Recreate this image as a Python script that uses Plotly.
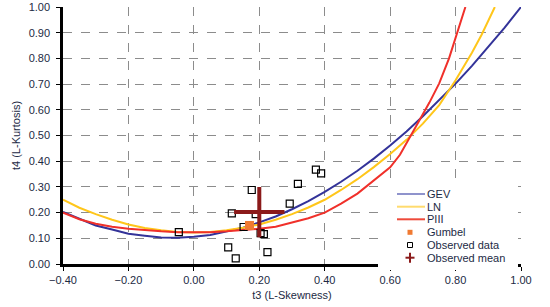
import plotly.graph_objects as go

# ---- data ----
gev_t3 = [-0.40, -0.35, -0.30, -0.25, -0.20, -0.15, -0.10, -0.05, 0.00, 0.05, 0.10, 0.15,
          0.20, 0.25, 0.30, 0.35, 0.40, 0.45, 0.50, 0.55, 0.60, 0.65, 0.70, 0.75, 0.80,
          0.85, 0.90, 0.95, 1.00]
gev_t4 = [0.203, 0.175, 0.150, 0.134, 0.118, 0.110, 0.103, 0.102, 0.106, 0.113, 0.126, 0.141,
          0.162, 0.185, 0.213, 0.245, 0.281, 0.320, 0.363, 0.410, 0.461, 0.516, 0.575, 0.637,
          0.702, 0.771, 0.844, 0.920, 1.000]

ln_t3 = [-0.40, -0.35, -0.30, -0.25, -0.20, -0.15, -0.10, -0.05, 0.00, 0.05, 0.10, 0.15,
         0.20, 0.25, 0.30, 0.35, 0.40, 0.45, 0.50, 0.55, 0.60, 0.65, 0.70, 0.75, 0.80,
         0.85, 0.88, 0.92]
ln_t4 = [0.250, 0.219, 0.194, 0.172, 0.154, 0.140, 0.131, 0.125, 0.123, 0.125, 0.131, 0.141,
         0.154, 0.172, 0.194, 0.220, 0.250, 0.288, 0.330, 0.377, 0.428, 0.483, 0.546, 0.618,
         0.715, 0.822, 0.893, 1.000]

p3_t3 = [-0.40, -0.35, -0.30, -0.25, -0.20, -0.15, -0.10, -0.05, 0.00, 0.05, 0.10, 0.15,
         0.20, 0.25, 0.30, 0.35, 0.40, 0.45, 0.50, 0.55, 0.60, 0.63, 0.66, 0.69, 0.72,
         0.75, 0.78, 0.81, 0.83]
p3_t4 = [0.200, 0.174, 0.157, 0.145, 0.137, 0.131, 0.127, 0.124, 0.123, 0.124, 0.127, 0.131,
         0.137, 0.145, 0.160, 0.178, 0.200, 0.235, 0.274, 0.325, 0.376, 0.425, 0.495, 0.560,
         0.628, 0.703, 0.800, 0.920, 1.000]

gumbel_t3 = [0.170]
gumbel_t4 = [0.150]

obs_t3 = [0.373, 0.389, 0.318, 0.177, 0.293, 0.116, 0.189, 0.152, 0.204, 0.214, 0.105,
          0.128, 0.225, -0.046]
obs_t4 = [0.367, 0.353, 0.312, 0.288, 0.235, 0.197, 0.194, 0.144, 0.120, 0.116, 0.065,
          0.022, 0.046, 0.124]

mean_t3 = [0.200]
mean_t4 = [0.202]

x_ticks = [-0.40, -0.20, 0.00, 0.20, 0.40, 0.60, 0.80, 1.00]
y_ticks = [0.00, 0.10, 0.20, 0.30, 0.40, 0.50, 0.60, 0.70, 0.80, 0.90, 1.00]

legend_labels = ["GEV", "LN", "PIII", "Gumbel", "Observed data", "Observed mean"]

C_GEV = "#333399"
C_LN = "#FFC61A"
C_P3 = "#F0302A"
C_GUM = "#F07A32"
C_MEAN = "#8B1A1A"
TXT = "#1C2A44"
FONT = "Liberation Sans, Arial, sans-serif"

W, H = 550, 307
ML, MR, MT, MB = 63, 29, 7, 43
PW, PH = W - ML - MR, H - MT - MB


def px(x):
    return (x - ML) / PW


def py(y):
    return (H - MB - y) / PH


fig = go.Figure()
fig.add_trace(go.Scatter(x=gev_t3, y=gev_t4, mode="lines", name="GEV",
                         line=dict(color=C_GEV, width=2)))
fig.add_trace(go.Scatter(x=ln_t3, y=ln_t4, mode="lines", name="LN",
                         line=dict(color=C_LN, width=2)))
fig.add_trace(go.Scatter(x=p3_t3, y=p3_t4, mode="lines", name="PIII",
                         line=dict(color=C_P3, width=2)))
fig.add_trace(go.Scatter(x=obs_t3, y=obs_t4, mode="markers", name="Observed data",
                         marker=dict(symbol="square-open", size=7, color="black",
                                     line=dict(width=1.2, color="black"))))
fig.add_trace(go.Scatter(x=gumbel_t3, y=gumbel_t4, mode="markers", name="Gumbel",
                         marker=dict(symbol="square", size=9, color=C_GUM)))
fig.add_trace(go.Scatter(x=mean_t3, y=mean_t4, mode="markers", name="Observed mean",
                         marker=dict(symbol="cross-thin-open", size=36, color=C_MEAN,
                                     line=dict(width=4, color=C_MEAN))))

axis_common = dict(
    automargin=False,
    showgrid=True, gridcolor="#8C8C8C", griddash="dash", gridwidth=1,
    showline=True, linecolor="black", linewidth=2.5,
    ticks="outside", ticklen=4, tickcolor="black", tickwidth=1,
    zeroline=False, tickformat=".2f",
    tickfont=dict(family=FONT, size=11, color=TXT),
)

fig.update_xaxes(range=[-0.4, 1.0], tickvals=x_ticks,
                 title=dict(text="t3 (L-Skewness)", font=dict(family=FONT, size=11, color=TXT),
                            standoff=7),
                 **axis_common)
fig.update_yaxes(range=[0, 1.0], tickvals=y_ticks, ticklabelstandoff=4,
                 title=dict(text="t4 (L-Kurtosis)", font=dict(family=FONT, size=11, color=TXT),
                            standoff=6),
                 **axis_common)

# ---- hand-built legend (compact rows like the reference) ----
shapes = [dict(type="rect", xref="paper", yref="paper", layer="above",
               x0=px(378), x1=px(518), y0=py(270), y1=py(186),
               fillcolor="white", line=dict(width=0))]
annotations = []
row_y = [194, 206.7, 219.3, 232.3, 245, 257.7]
line_cols = ["#8F93CC", "#FFDB6E", "#EE4A3A"]
for i, col in enumerate(line_cols):
    shapes.append(dict(type="line", xref="paper", yref="paper", layer="above",
                       x0=px(397), x1=px(425), y0=py(row_y[i]), y1=py(row_y[i]),
                       line=dict(color=col, width=2)))
mx = 410
# Gumbel
shapes.append(dict(type="rect", xref="paper", yref="paper", layer="above",
                   x0=px(mx - 2.5), x1=px(mx + 2.5), y0=py(row_y[3] + 2.5), y1=py(row_y[3] - 2.5),
                   fillcolor=C_GUM, line=dict(width=0)))
# Observed data
shapes.append(dict(type="rect", xref="paper", yref="paper", layer="above",
                   x0=px(mx - 2.5), x1=px(mx + 2.5), y0=py(row_y[4] + 2.5), y1=py(row_y[4] - 2.5),
                   fillcolor="white", line=dict(width=1, color="black")))
# Observed mean
shapes.append(dict(type="line", xref="paper", yref="paper", layer="above",
                   x0=px(mx - 4.5), x1=px(mx + 4.5), y0=py(row_y[5]), y1=py(row_y[5]),
                   line=dict(color=C_MEAN, width=2)))
shapes.append(dict(type="line", xref="paper", yref="paper", layer="above",
                   x0=px(mx), x1=px(mx), y0=py(row_y[5] + 5), y1=py(row_y[5] - 5),
                   line=dict(color=C_MEAN, width=2)))
for lab, yy in zip(legend_labels, row_y):
    annotations.append(dict(text=lab, xref="paper", yref="paper", x=px(426), y=py(yy),
                            xanchor="left", yanchor="middle", showarrow=False,
                            font=dict(family=FONT, size=11, color=TXT), borderpad=0))

fig.update_layout(
    width=W, height=H,
    margin=dict(l=ML, r=MR, t=MT, b=MB),
    paper_bgcolor="white", plot_bgcolor="white",
    font=dict(family=FONT, size=11, color=TXT),
    showlegend=False,
    shapes=shapes,
    annotations=annotations,
)

fig.write_html("out.html",
               config={"displayModeBar": False},
               post_script="document.body.style.margin='0';document.body.style.overflow='hidden';")
